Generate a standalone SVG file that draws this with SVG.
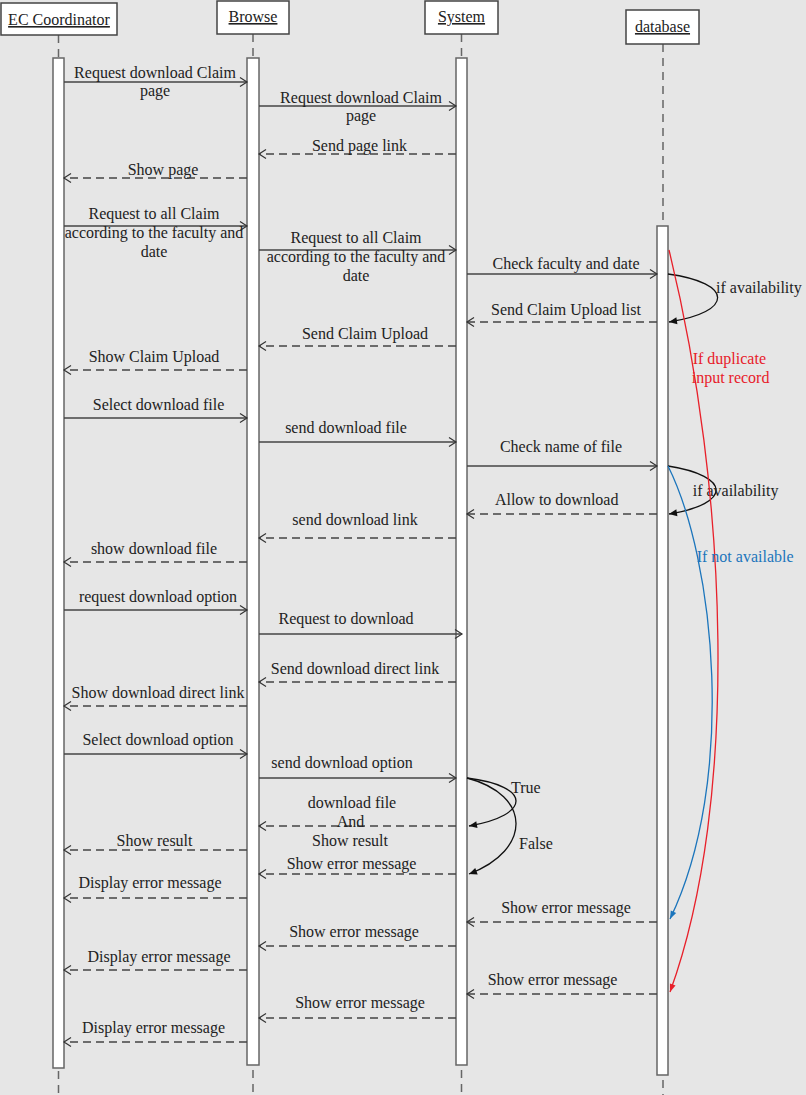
<svg xmlns="http://www.w3.org/2000/svg" width="806" height="1095" viewBox="0 0 806 1095">
<style>
text{font-family:"Liberation Serif","Times New Roman",serif;font-size:16px;fill:#222}
#connectors text{transform:translateY(1.5px)}
.m{text-anchor:middle}
.hd{text-decoration:underline}
.box{fill:#fff;stroke:#444;stroke-width:1.5}
.life{stroke:#666;stroke-width:1.5;stroke-dasharray:8,6;fill:none}
.bar{fill:#fff;stroke:#666;stroke-width:1.5}
.s{stroke:#444;stroke-width:1.3;fill:none;marker-end:url(#open)}
.d{stroke:#444;stroke-width:1.3;fill:none;stroke-dasharray:8,5;marker-end:url(#open)}
.loop{stroke:#111;stroke-width:1.3;fill:none;marker-end:url(#fill)}
.red{stroke:#e8202a;stroke-width:1.3;fill:none;marker-end:url(#fillr)}
.blue{stroke:#1b75bc;stroke-width:1.3;fill:none;marker-end:url(#fillb)}
</style>
<defs>
<marker id="open" markerUnits="userSpaceOnUse" viewBox="-10 -6 12 12" markerWidth="12" markerHeight="12" refX="0" refY="0" orient="auto"><path d="M-7,-4.5 L0,0 L-7,4.5" fill="none" stroke="#333" stroke-width="1.2"/></marker>
<marker id="fill" markerUnits="userSpaceOnUse" viewBox="-10 -6 12 12" markerWidth="12" markerHeight="12" refX="0" refY="0" orient="auto"><path d="M-8,-3.5 L0,0 L-8,3.5 Z" fill="#111"/></marker>
<marker id="fillr" markerUnits="userSpaceOnUse" viewBox="-10 -6 12 12" markerWidth="12" markerHeight="12" refX="0" refY="0" orient="auto"><path d="M-8,-3 L0,0 L-8,3 Z" fill="#e8202a"/></marker>
<marker id="fillb" markerUnits="userSpaceOnUse" viewBox="-10 -6 12 12" markerWidth="12" markerHeight="12" refX="0" refY="0" orient="auto"><path d="M-8,-3 L0,0 L-8,3 Z" fill="#1b75bc"/></marker>
</defs>
<rect width="806" height="1095" fill="#e6e6e6"/>

<g id="ec-coordinator">
<line class="life" x1="58.5" y1="35" x2="58.5" y2="1095"/>
<rect class="box" x="1" y="3" width="116" height="32"/>
<text class="m hd" x="59" y="25">EC Coordinator</text>
<rect class="bar" x="53" y="58" width="11" height="1010"/>
</g>
<g id="browse">
<line class="life" x1="253" y1="34" x2="253" y2="1095"/>
<rect class="box" x="217" y="1" width="72" height="33"/>
<text class="m hd" x="253" y="22">Browse</text>
<rect class="bar" x="247" y="58" width="12" height="1007"/>
</g>
<g id="system">
<line class="life" x1="461.5" y1="34" x2="461.5" y2="1095"/>
<rect class="box" x="425" y="1" width="73" height="33"/>
<text class="m hd" x="461.5" y="22">System</text>
<rect class="bar" x="456" y="58" width="11" height="1007"/>
</g>
<g id="database">
<line class="life" x1="663" y1="44" x2="663" y2="1095"/>
<rect class="box" x="626" y="10" width="73" height="34"/>
<text class="m hd" x="662.5" y="32">database</text>
<rect class="bar" x="657" y="226" width="11" height="849"/>
</g>

<g id="connectors">
<line class="s" x1="64" y1="82" x2="247" y2="82"/>
<text class="m" x="155" y="76">Request download Claim</text>
<text class="m" x="155" y="94.5">page</text>

<line class="s" x1="259" y1="106" x2="456" y2="106"/>
<text class="m" x="361" y="101">Request download Claim</text>
<text class="m" x="361" y="119">page</text>

<line class="d" x1="456" y1="154" x2="259" y2="154"/>
<text class="m" x="359.5" y="149.3">Send page link</text>

<line class="d" x1="247" y1="178" x2="64" y2="178"/>
<text class="m" x="163" y="173.3">Show page</text>

<line class="s" x1="64" y1="226" x2="247" y2="226"/>
<text class="m" x="154" y="217.3">Request to all Claim</text>
<text class="m" x="154" y="236.7">according to the faculty and</text>
<text class="m" x="154" y="255.3">date</text>

<line class="s" x1="259" y1="250" x2="456" y2="250"/>
<text class="m" x="356" y="241.7">Request to all Claim</text>
<text class="m" x="356" y="260.7">according to the faculty and</text>
<text class="m" x="356" y="279.3">date</text>

<line class="s" x1="467" y1="274" x2="657" y2="274"/>
<text class="m" x="566" y="267.3">Check faculty and date</text>

<path class="loop" d="M668,274 C734,283 734,312 669,322"/>
<text x="716" y="291.7">if availability</text>

<line class="d" x1="657" y1="322" x2="467" y2="322"/>
<text class="m" x="566" y="313.3">Send Claim Upload list</text>

<line class="d" x1="456" y1="346" x2="259" y2="346"/>
<text class="m" x="365" y="337.7">Send Claim Upload</text>

<line class="d" x1="247" y1="370" x2="64" y2="370"/>
<text class="m" x="154" y="360.7">Show Claim Upload</text>

<line class="s" x1="64" y1="418" x2="247" y2="418"/>
<text class="m" x="158.5" y="408.3">Select download file</text>

<line class="s" x1="259" y1="442" x2="456" y2="442"/>
<text class="m" x="346" y="431">send download file</text>

<line class="s" x1="467" y1="466" x2="657" y2="466"/>
<text class="m" x="561" y="450">Check name of file</text>

<path class="loop" d="M668,466 C732,476 732,504 669,514"/>
<text x="692.7" y="494.3">if availability</text>

<line class="d" x1="657" y1="514" x2="467" y2="514"/>
<text class="m" x="556.7" y="503.3">Allow to download</text>

<line class="d" x1="456" y1="538" x2="259" y2="538"/>
<text class="m" x="355" y="523.3">send download link</text>

<line class="d" x1="247" y1="562" x2="64" y2="562"/>
<text class="m" x="154" y="552.3">show download file</text>

<line class="s" x1="64" y1="610" x2="247" y2="610"/>
<text class="m" x="158" y="600">request download option</text>

<line class="s" x1="259" y1="634" x2="462" y2="634"/>
<text class="m" x="346" y="622.7">Request to download</text>

<line class="d" x1="456" y1="682" x2="259" y2="682"/>
<text class="m" x="355" y="672.7">Send download direct link</text>

<line class="d" x1="247" y1="706" x2="64" y2="706"/>
<text class="m" x="158" y="696.7">Show download direct link</text>

<line class="s" x1="64" y1="754" x2="247" y2="754"/>
<text class="m" x="158" y="743.3">Select download option</text>

<line class="s" x1="259" y1="778" x2="456" y2="778"/>
<text class="m" x="342" y="766.7">send download option</text>

<path class="loop" d="M467,778 C532,786 532,815 469,826"/>
<text x="511" y="791.7">True</text>
<path class="loop" d="M467,778 C532,795 532,850 469,874"/>
<text x="519" y="847.7">False</text>

<line class="d" x1="456" y1="826" x2="259" y2="826"/>
<text class="m" x="352" y="806">download file</text>
<text class="m" x="350.5" y="825">And</text>
<text class="m" x="350" y="844.3">Show result</text>

<line class="d" x1="247" y1="850" x2="64" y2="850"/>
<text class="m" x="154.5" y="844.3">Show result</text>

<line class="d" x1="456" y1="874" x2="259" y2="874"/>
<text class="m" x="351.5" y="867.7">Show error message</text>

<line class="d" x1="247" y1="898" x2="64" y2="898"/>
<text class="m" x="150" y="886.7">Display error message</text>

<line class="d" x1="657" y1="922" x2="467" y2="922"/>
<text class="m" x="566" y="911">Show error message</text>

<line class="d" x1="456" y1="946" x2="259" y2="946"/>
<text class="m" x="354" y="935">Show error message</text>

<line class="d" x1="247" y1="970" x2="64" y2="970"/>
<text class="m" x="159" y="960">Display error message</text>

<line class="d" x1="657" y1="994" x2="467" y2="994"/>
<text class="m" x="552.5" y="983.3">Show error message</text>

<line class="d" x1="456" y1="1018" x2="259" y2="1018"/>
<text class="m" x="360" y="1006.7">Show error message</text>

<line class="d" x1="247" y1="1042" x2="64" y2="1042"/>
<text class="m" x="153.5" y="1031.7">Display error message</text>

<path class="red" d="M669,250 C728,490 740,800 670,992"/>
<text x="692.7" y="362.7" style="fill:#e8202a">If duplicate</text>
<text x="691.7" y="381.7" style="fill:#e8202a">input record</text>

<path class="blue" d="M668,466 C715,560 737,780 670,919"/>
<text x="696.7" y="560.7" style="fill:#1b75bc">If not available</text>
</g>
</svg>
